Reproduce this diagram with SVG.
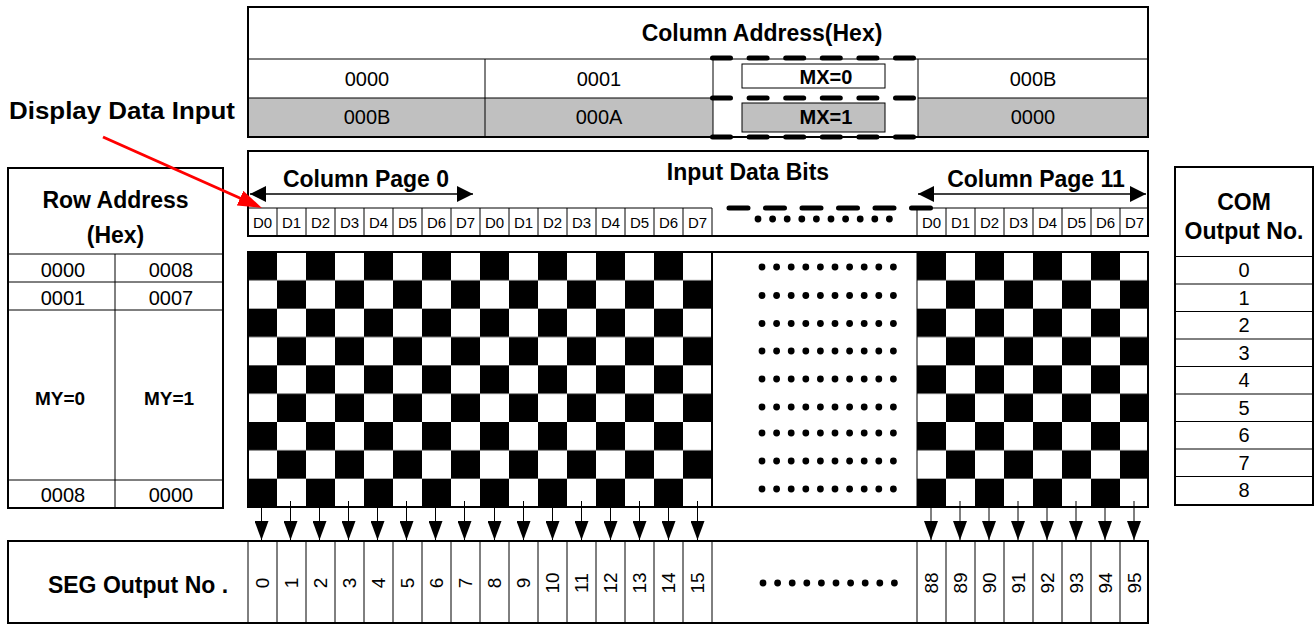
<svg xmlns="http://www.w3.org/2000/svg" width="1315" height="626" viewBox="0 0 1315 626">
<defs>
<style>
text{font-family:"Liberation Sans",Arial,Helvetica,sans-serif;fill:#000}
.b{font-weight:bold}
.h{font-size:23px;font-weight:bold}
.n{font-size:20px}
.d{font-size:15px}
.s{font-size:19px}
.c{text-anchor:middle}
.box{fill:#fff;stroke:#000;stroke-width:2}
.ln{stroke:#000;stroke-width:1;fill:none}
.gray{fill:#c0c0c0}
.dash{stroke:#000;stroke-width:5;stroke-linecap:round;fill:none}
.dot{fill:#000}
</style>
<marker id="ahD" viewBox="0 0 14 19" refX="7" refY="19" markerWidth="14" markerHeight="19" orient="0" markerUnits="userSpaceOnUse"><path d="M0,0L14,0L7,19z" fill="#000"/></marker>
<marker id="ahP" viewBox="0 0 16 16" refX="16" refY="8" markerWidth="16" markerHeight="16" orient="auto-start-reverse" markerUnits="userSpaceOnUse"><path d="M0,0L16,8L0,16z" fill="#000"/></marker>
<marker id="ahR" viewBox="0 0 24 16" refX="12" refY="8" markerWidth="24" markerHeight="16" orient="auto" markerUnits="userSpaceOnUse"><path d="M0,0L24,8L0,16z" fill="#ff0000"/></marker>
<pattern id="chkL" x="248" y="252" width="58" height="56.667" patternUnits="userSpaceOnUse"><rect width="29" height="28.333" fill="#000"/><rect x="29" y="28.333" width="29" height="28.333" fill="#000"/></pattern>
<pattern id="chkR" x="917" y="252" width="58" height="56.667" patternUnits="userSpaceOnUse"><rect width="29" height="28.333" fill="#000"/><rect x="29" y="28.333" width="29" height="28.333" fill="#000"/></pattern>
</defs>
<rect width="1315" height="626" fill="#fff"/>

<!-- Column address table -->
<g id="column-address">
<rect class="box" x="248" y="7" width="900" height="130"/>
<rect class="gray" x="249" y="98" width="464" height="38"/>
<rect class="gray" x="918" y="98" width="229" height="38"/>
<line class="ln" x1="248" y1="59" x2="1148" y2="59"/>
<line class="ln" x1="248" y1="98" x2="713" y2="98"/>
<line class="ln" x1="918" y1="98" x2="1148" y2="98"/>
<line class="ln" x1="485" y1="59" x2="485" y2="137"/>
<line class="ln" x1="713" y1="59" x2="713" y2="137"/>
<line class="ln" x1="918" y1="59" x2="918" y2="137"/>
<text class="h c" x="762" y="41">Column Address(Hex)</text>
<text class="n c" x="367" y="86">0000</text>
<text class="n c" x="599" y="86">0001</text>
<text class="n c" x="1033" y="86">000B</text>
<text class="n c" x="367" y="124">000B</text>
<text class="n c" x="599" y="124">000A</text>
<text class="n c" x="1033" y="124">0000</text>
<rect x="742" y="64" width="143" height="24" fill="#fff" stroke="#000" stroke-width="1"/>
<rect x="742" y="103" width="143" height="29" fill="#c0c0c0" stroke="#000" stroke-width="1"/>
<text class="b c" x="826" y="84" font-size="20">MX=0</text>
<text class="b c" x="826" y="124" font-size="20">MX=1</text>
<line class="dash" x1="712.5" y1="58" x2="917" y2="58" stroke-dasharray="18 18.6"/>
<line class="dash" x1="712.5" y1="98" x2="917" y2="98" stroke-dasharray="18 18.6"/>
<line class="dash" x1="712.5" y1="137" x2="917" y2="137" stroke-dasharray="18 18.6"/>
</g>

<!-- Display data input label -->
<g id="display-data-input">
<text class="b" x="9" y="119" font-size="24" textLength="226" lengthAdjust="spacingAndGlyphs">Display Data Input</text>
</g>

<!-- Input data bits -->
<g id="input-data-bits">
<rect class="box" x="248" y="151" width="900" height="85"/>
<text class="h c" x="748" y="180">Input Data Bits</text>
<text class="h c" x="366" y="187">Column Page 0</text>
<text class="h c" x="1036" y="187">Column Page 11</text>
<line class="ln" x1="248" y1="208" x2="712" y2="208"/>
<line class="ln" x1="917" y1="208" x2="1148" y2="208"/>
<path class="ln" d="M277,208V236M306,208V236M335,208V236M364,208V236M393,208V236M422,208V236M451,208V236M480,208V236M509,208V236M538,208V236M567,208V236M596,208V236M625,208V236M654,208V236M683,208V236M712,208V236M917,208V236M946,208V236M975,208V236M1004,208V236M1033,208V236M1062,208V236M1091,208V236M1120,208V236"/>
<g class="d c">
<text x="262.5" y="228">D0</text><text x="291.5" y="228">D1</text><text x="320.5" y="228">D2</text><text x="349.5" y="228">D3</text>
<text x="378.5" y="228">D4</text><text x="407.5" y="228">D5</text><text x="436.5" y="228">D6</text><text x="465.5" y="228">D7</text>
<text x="494.5" y="228">D0</text><text x="523.5" y="228">D1</text><text x="552.5" y="228">D2</text><text x="581.5" y="228">D3</text>
<text x="610.5" y="228">D4</text><text x="639.5" y="228">D5</text><text x="668.5" y="228">D6</text><text x="697.5" y="228">D7</text>
<text x="931.5" y="228">D0</text><text x="960.5" y="228">D1</text><text x="989.5" y="228">D2</text><text x="1018.5" y="228">D3</text>
<text x="1047.5" y="228">D4</text><text x="1076.5" y="228">D5</text><text x="1105.5" y="228">D6</text><text x="1134.5" y="228">D7</text>
</g>
<line class="dash" x1="729" y1="208" x2="934" y2="208" stroke-dasharray="19 17.5"/>
<g class="dot">
<circle cx="758" cy="219" r="3.4"/><circle cx="772.6" cy="219" r="3.4"/><circle cx="787.2" cy="219" r="3.4"/><circle cx="801.8" cy="219" r="3.4"/><circle cx="816.4" cy="219" r="3.4"/>
<circle cx="831" cy="219" r="3.4"/><circle cx="845.6" cy="219" r="3.4"/><circle cx="860.2" cy="219" r="3.4"/><circle cx="874.8" cy="219" r="3.4"/><circle cx="889.4" cy="219" r="3.4"/>
</g>
</g>

<!-- Row address table -->
<g id="row-address">
<rect class="box" x="8" y="168" width="215" height="340"/>
<line class="ln" x1="8" y1="254" x2="223" y2="254"/>
<line class="ln" x1="8" y1="282" x2="223" y2="282"/>
<line class="ln" x1="8" y1="310" x2="223" y2="310"/>
<line class="ln" x1="8" y1="480" x2="223" y2="480"/>
<line class="ln" x1="115" y1="254" x2="115" y2="508"/>
<text class="h c" x="115.5" y="208">Row Address</text>
<text class="h c" x="115.5" y="243">(Hex)</text>
<text class="n c" x="63" y="277">0000</text>
<text class="n c" x="171" y="277">0008</text>
<text class="n c" x="63" y="305">0001</text>
<text class="n c" x="171" y="305">0007</text>
<text class="b c" x="60" y="405" font-size="19">MY=0</text>
<text class="b c" x="169" y="405" font-size="19">MY=1</text>
<text class="n c" x="63" y="502">0008</text>
<text class="n c" x="171" y="502">0000</text>
</g>

<!-- Display RAM checkerboard -->
<g id="display-ram">
<rect x="248" y="252" width="464" height="255" fill="url(#chkL)"/>
<rect x="917" y="252" width="231" height="255" fill="url(#chkR)"/>
<rect x="248" y="252" width="900" height="255" fill="none" stroke="#000" stroke-width="2"/>
<line x1="712" y1="252" x2="712" y2="507" stroke="#000" stroke-width="2"/>
<line x1="917" y1="252" x2="917" y2="507" stroke="#000" stroke-width="1"/>
<g class="dot">
<circle cx="762" cy="267" r="3.4"/><circle cx="776.6" cy="267" r="3.4"/><circle cx="791.2" cy="267" r="3.4"/><circle cx="805.8" cy="267" r="3.4"/><circle cx="820.4" cy="267" r="3.4"/><circle cx="835" cy="267" r="3.4"/><circle cx="849.6" cy="267" r="3.4"/><circle cx="864.2" cy="267" r="3.4"/><circle cx="878.8" cy="267" r="3.4"/><circle cx="893.4" cy="267" r="3.4"/>
<circle cx="762" cy="295.5" r="3.4"/><circle cx="776.6" cy="295.5" r="3.4"/><circle cx="791.2" cy="295.5" r="3.4"/><circle cx="805.8" cy="295.5" r="3.4"/><circle cx="820.4" cy="295.5" r="3.4"/><circle cx="835" cy="295.5" r="3.4"/><circle cx="849.6" cy="295.5" r="3.4"/><circle cx="864.2" cy="295.5" r="3.4"/><circle cx="878.8" cy="295.5" r="3.4"/><circle cx="893.4" cy="295.5" r="3.4"/>
<circle cx="762" cy="323.5" r="3.4"/><circle cx="776.6" cy="323.5" r="3.4"/><circle cx="791.2" cy="323.5" r="3.4"/><circle cx="805.8" cy="323.5" r="3.4"/><circle cx="820.4" cy="323.5" r="3.4"/><circle cx="835" cy="323.5" r="3.4"/><circle cx="849.6" cy="323.5" r="3.4"/><circle cx="864.2" cy="323.5" r="3.4"/><circle cx="878.8" cy="323.5" r="3.4"/><circle cx="893.4" cy="323.5" r="3.4"/>
<circle cx="762" cy="351" r="3.4"/><circle cx="776.6" cy="351" r="3.4"/><circle cx="791.2" cy="351" r="3.4"/><circle cx="805.8" cy="351" r="3.4"/><circle cx="820.4" cy="351" r="3.4"/><circle cx="835" cy="351" r="3.4"/><circle cx="849.6" cy="351" r="3.4"/><circle cx="864.2" cy="351" r="3.4"/><circle cx="878.8" cy="351" r="3.4"/><circle cx="893.4" cy="351" r="3.4"/>
<circle cx="762" cy="379" r="3.4"/><circle cx="776.6" cy="379" r="3.4"/><circle cx="791.2" cy="379" r="3.4"/><circle cx="805.8" cy="379" r="3.4"/><circle cx="820.4" cy="379" r="3.4"/><circle cx="835" cy="379" r="3.4"/><circle cx="849.6" cy="379" r="3.4"/><circle cx="864.2" cy="379" r="3.4"/><circle cx="878.8" cy="379" r="3.4"/><circle cx="893.4" cy="379" r="3.4"/>
<circle cx="762" cy="407" r="3.4"/><circle cx="776.6" cy="407" r="3.4"/><circle cx="791.2" cy="407" r="3.4"/><circle cx="805.8" cy="407" r="3.4"/><circle cx="820.4" cy="407" r="3.4"/><circle cx="835" cy="407" r="3.4"/><circle cx="849.6" cy="407" r="3.4"/><circle cx="864.2" cy="407" r="3.4"/><circle cx="878.8" cy="407" r="3.4"/><circle cx="893.4" cy="407" r="3.4"/>
<circle cx="762" cy="433" r="3.4"/><circle cx="776.6" cy="433" r="3.4"/><circle cx="791.2" cy="433" r="3.4"/><circle cx="805.8" cy="433" r="3.4"/><circle cx="820.4" cy="433" r="3.4"/><circle cx="835" cy="433" r="3.4"/><circle cx="849.6" cy="433" r="3.4"/><circle cx="864.2" cy="433" r="3.4"/><circle cx="878.8" cy="433" r="3.4"/><circle cx="893.4" cy="433" r="3.4"/>
<circle cx="762" cy="461" r="3.4"/><circle cx="776.6" cy="461" r="3.4"/><circle cx="791.2" cy="461" r="3.4"/><circle cx="805.8" cy="461" r="3.4"/><circle cx="820.4" cy="461" r="3.4"/><circle cx="835" cy="461" r="3.4"/><circle cx="849.6" cy="461" r="3.4"/><circle cx="864.2" cy="461" r="3.4"/><circle cx="878.8" cy="461" r="3.4"/><circle cx="893.4" cy="461" r="3.4"/>
<circle cx="762" cy="489" r="3.4"/><circle cx="776.6" cy="489" r="3.4"/><circle cx="791.2" cy="489" r="3.4"/><circle cx="805.8" cy="489" r="3.4"/><circle cx="820.4" cy="489" r="3.4"/><circle cx="835" cy="489" r="3.4"/><circle cx="849.6" cy="489" r="3.4"/><circle cx="864.2" cy="489" r="3.4"/><circle cx="878.8" cy="489" r="3.4"/><circle cx="893.4" cy="489" r="3.4"/>
</g>
</g>

<!-- COM output table -->
<g id="com-output">
<rect class="box" x="1175" y="167" width="138" height="338"/>
<path class="ln" d="M1175,256.5H1313M1175,284H1313M1175,311.5H1313M1175,339H1313M1175,366.5H1313M1175,394H1313M1175,421.5H1313M1175,449H1313M1175,476.5H1313"/>
<text class="h c" x="1244" y="210">COM</text>
<text class="h c" x="1244" y="239">Output No.</text>
<g class="n c">
<text x="1244" y="277">0</text><text x="1244" y="304.5">1</text><text x="1244" y="332">2</text>
<text x="1244" y="359.5">3</text><text x="1244" y="387">4</text><text x="1244" y="414.5">5</text>
<text x="1244" y="442">6</text><text x="1244" y="469.5">7</text><text x="1244" y="497">8</text>
</g>
</g>

<!-- SEG output table -->
<g id="seg-output">
<rect class="box" x="8" y="541" width="1140" height="82"/>
<path class="ln" d="M248,541V623M277,541V623M306,541V623M335,541V623M364,541V623M393,541V623M422,541V623M451,541V623M480,541V623M509,541V623M538,541V623M567,541V623M596,541V623M625,541V623M654,541V623M683,541V623M712,541V623M917,541V623M946,541V623M975,541V623M1004,541V623M1033,541V623M1062,541V623M1091,541V623M1120,541V623"/>
<text class="h c" x="138" y="593">SEG Output No .</text>
<g class="s c">
<text x="262.5" y="583" dy="0.35em" transform="rotate(-90 262.5 583)">0</text>
<text x="291.5" y="583" dy="0.35em" transform="rotate(-90 291.5 583)">1</text>
<text x="320.5" y="583" dy="0.35em" transform="rotate(-90 320.5 583)">2</text>
<text x="349.5" y="583" dy="0.35em" transform="rotate(-90 349.5 583)">3</text>
<text x="378.5" y="583" dy="0.35em" transform="rotate(-90 378.5 583)">4</text>
<text x="407.5" y="583" dy="0.35em" transform="rotate(-90 407.5 583)">5</text>
<text x="436.5" y="583" dy="0.35em" transform="rotate(-90 436.5 583)">6</text>
<text x="465.5" y="583" dy="0.35em" transform="rotate(-90 465.5 583)">7</text>
<text x="494.5" y="583" dy="0.35em" transform="rotate(-90 494.5 583)">8</text>
<text x="523.5" y="583" dy="0.35em" transform="rotate(-90 523.5 583)">9</text>
<text x="552.5" y="583" dy="0.35em" transform="rotate(-90 552.5 583)">10</text>
<text x="581.5" y="583" dy="0.35em" transform="rotate(-90 581.5 583)">11</text>
<text x="610.5" y="583" dy="0.35em" transform="rotate(-90 610.5 583)">12</text>
<text x="639.5" y="583" dy="0.35em" transform="rotate(-90 639.5 583)">13</text>
<text x="668.5" y="583" dy="0.35em" transform="rotate(-90 668.5 583)">14</text>
<text x="697.5" y="583" dy="0.35em" transform="rotate(-90 697.5 583)">15</text>
<text x="931.5" y="583" dy="0.35em" transform="rotate(-90 931.5 583)">88</text>
<text x="960.5" y="583" dy="0.35em" transform="rotate(-90 960.5 583)">89</text>
<text x="989.5" y="583" dy="0.35em" transform="rotate(-90 989.5 583)">90</text>
<text x="1018.5" y="583" dy="0.35em" transform="rotate(-90 1018.5 583)">91</text>
<text x="1047.5" y="583" dy="0.35em" transform="rotate(-90 1047.5 583)">92</text>
<text x="1076.5" y="583" dy="0.35em" transform="rotate(-90 1076.5 583)">93</text>
<text x="1105.5" y="583" dy="0.35em" transform="rotate(-90 1105.5 583)">94</text>
<text x="1134.5" y="583" dy="0.35em" transform="rotate(-90 1134.5 583)">95</text>
</g>
<g class="dot">
<circle cx="763" cy="583" r="3.4"/><circle cx="777.6" cy="583" r="3.4"/><circle cx="792.2" cy="583" r="3.4"/><circle cx="806.8" cy="583" r="3.4"/><circle cx="821.4" cy="583" r="3.4"/><circle cx="836" cy="583" r="3.4"/><circle cx="850.6" cy="583" r="3.4"/><circle cx="865.2" cy="583" r="3.4"/><circle cx="879.8" cy="583" r="3.4"/><circle cx="894.4" cy="583" r="3.4"/>
</g>
</g>

<!-- Connectors -->
<g id="connectors" stroke="#000" stroke-width="1" fill="none">
<line x1="250" y1="194" x2="473" y2="194" stroke-width="1.5" marker-start="url(#ahP)" marker-end="url(#ahP)"/>
<line x1="918" y1="194" x2="1146" y2="194" stroke-width="1.5" marker-start="url(#ahP)" marker-end="url(#ahP)"/>
<line x1="103" y1="137" x2="251" y2="203" stroke="#ff0000" stroke-width="3" marker-end="url(#ahR)"/>
<g marker-end="url(#ahD)">
<line x1="261.5" y1="501" x2="261.5" y2="540"/><line x1="290.5" y1="501" x2="290.5" y2="540"/><line x1="319.5" y1="501" x2="319.5" y2="540"/><line x1="348.5" y1="501" x2="348.5" y2="540"/>
<line x1="377.5" y1="501" x2="377.5" y2="540"/><line x1="406.5" y1="501" x2="406.5" y2="540"/><line x1="435.5" y1="501" x2="435.5" y2="540"/><line x1="464.5" y1="501" x2="464.5" y2="540"/>
<line x1="494.5" y1="501" x2="494.5" y2="540"/><line x1="523.5" y1="501" x2="523.5" y2="540"/><line x1="552.5" y1="501" x2="552.5" y2="540"/><line x1="581.5" y1="501" x2="581.5" y2="540"/>
<line x1="610.5" y1="501" x2="610.5" y2="540"/><line x1="639.5" y1="501" x2="639.5" y2="540"/><line x1="668.5" y1="501" x2="668.5" y2="540"/><line x1="697.5" y1="501" x2="697.5" y2="540"/>
<line x1="931" y1="501" x2="931" y2="540"/><line x1="960" y1="501" x2="960" y2="540"/><line x1="989" y1="501" x2="989" y2="540"/><line x1="1018" y1="501" x2="1018" y2="540"/>
<line x1="1047" y1="501" x2="1047" y2="540"/><line x1="1076" y1="501" x2="1076" y2="540"/><line x1="1105" y1="501" x2="1105" y2="540"/><line x1="1134" y1="501" x2="1134" y2="540"/>
</g>
</g>
</svg>
